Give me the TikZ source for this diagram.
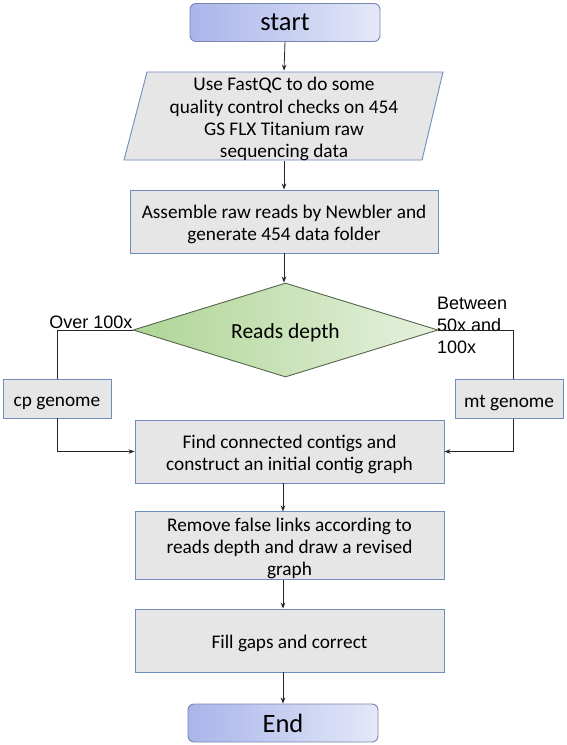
\documentclass[tikz,border=0pt]{standalone}
\usepackage{fontspec}
\setmainfont{Carlito}
\newfontfamily\labfont{Liberation Sans}
\usetikzlibrary{shapes.geometric,arrows.meta,calc}
\definecolor{boxfill}{HTML}{E6E6E6}
\definecolor{boxline}{HTML}{6F8CBF}
\definecolor{termL}{HTML}{A9B5EA}
\definecolor{termR}{HTML}{E4E8F8}
\definecolor{termline}{HTML}{7A86AE}
\definecolor{diaL}{HTML}{AED595}
\definecolor{diaR}{HTML}{E6F1DE}
\definecolor{dialine}{HTML}{56654E}
\newcommand\tstrut{\rule{0pt}{20pt}}
\begin{document}
\begin{tikzpicture}[x=1pt,y=-1pt,
  proc/.style={draw=boxline, fill=boxfill, line width=0.9pt, minimum width=309pt,
    minimum height=63pt, inner sep=0pt, align=center,
    font=\fontsize{19.3}{22}\selectfont},
  small/.style={proc, minimum width=108pt, minimum height=39pt},
  term/.style={draw=termline, line width=0.9pt, rounded corners=6pt, left color=termL,
    right color=termR, minimum width=190pt, minimum height=38pt, inner sep=0pt,
    font=\fontsize{26.5}{28}\selectfont},
  conn/.style={draw=black!85, line width=0.8pt, -{Stealth[length=6pt,width=4.5pt]}},
  link/.style={draw=black!85, line width=0.8pt},
  lab/.style={font=\labfont\fontsize{18}{22}\selectfont, inner sep=0pt, align=left}]
\useasboundingbox[fill=white] (0,0) rectangle (566,745);

\node[term] (start) at (285,22.5) {start};

\fill[boxfill] (147,72) -- (443,72) -- (422,160) -- (124,160) -- cycle;
\draw[boxline, line width=0.9pt] (147,72) -- (443,72) -- (422,160) -- (124,160) -- cycle;
\node[align=center, inner sep=0pt, minimum width=298pt, minimum height=88pt,
  font=\fontsize{19.3}{22.3}\selectfont] (qc) at (284,116)
  {\tstrut Use FastQC to do some\\quality control checks on 454\\GS FLX Titanium raw\\sequencing data};

\node[proc, minimum width=308pt] (asm) at (284,221.5)
  {\tstrut Assemble raw reads by Newbler and\\generate 454 data folder};

\node[diamond, aspect=3.2, draw=dialine, line width=0.9pt, left color=diaL, right color=diaR,
  minimum width=305pt, minimum height=94pt, inner sep=0pt,
  font=\fontsize{21.5}{24}\selectfont] (depth) at (285.5,330) {\rule{0pt}{21pt}Reads depth};

\node[small] (cp) at (57,398.5) {\tstrut cp genome};
\node[small] (mt) at (509,399) {\tstrut mt genome};

\node[proc] (find) at (289.5,451.5)
  {\tstrut Find connected contigs and\\construct an initial contig graph};
\node[proc] (remove) at (289.5,545.5)
  {\tstrut Remove false links according to\\reads depth and draw a revised\\graph};
\node[proc] (fill) at (289.5,640.5) {\tstrut Fill gaps and correct};

\node[term] (end) at (283,723) {End};

\node[lab, anchor=center] (over) at (91,322) {Over 100x};
\node[lab, anchor=west] (betw) at (437,325) {Between\\50x and\\100x};

\coordinate (sp) at (283,0);

\draw[conn] (start.south) -- (qc.north);
\draw[conn] (qc.south) -- (asm.north);
\draw[conn] (asm.south) -- (asm.south |- depth.north);
\draw[link] (depth.west) -| (cp.north);
\draw[link] (depth.east) -| ([xshift=4pt]mt.north);
\draw[conn] (cp.south) |- (find.west);
\draw[conn] ([xshift=4pt]mt.south) |- (find.east);
\draw[conn] (find.south -| sp) -- (remove.north -| sp);
\draw[conn] (remove.south -| sp) -- (fill.north -| sp);
\draw[conn] (fill.south -| sp) -- (end.north);
\end{tikzpicture}
\end{document}
